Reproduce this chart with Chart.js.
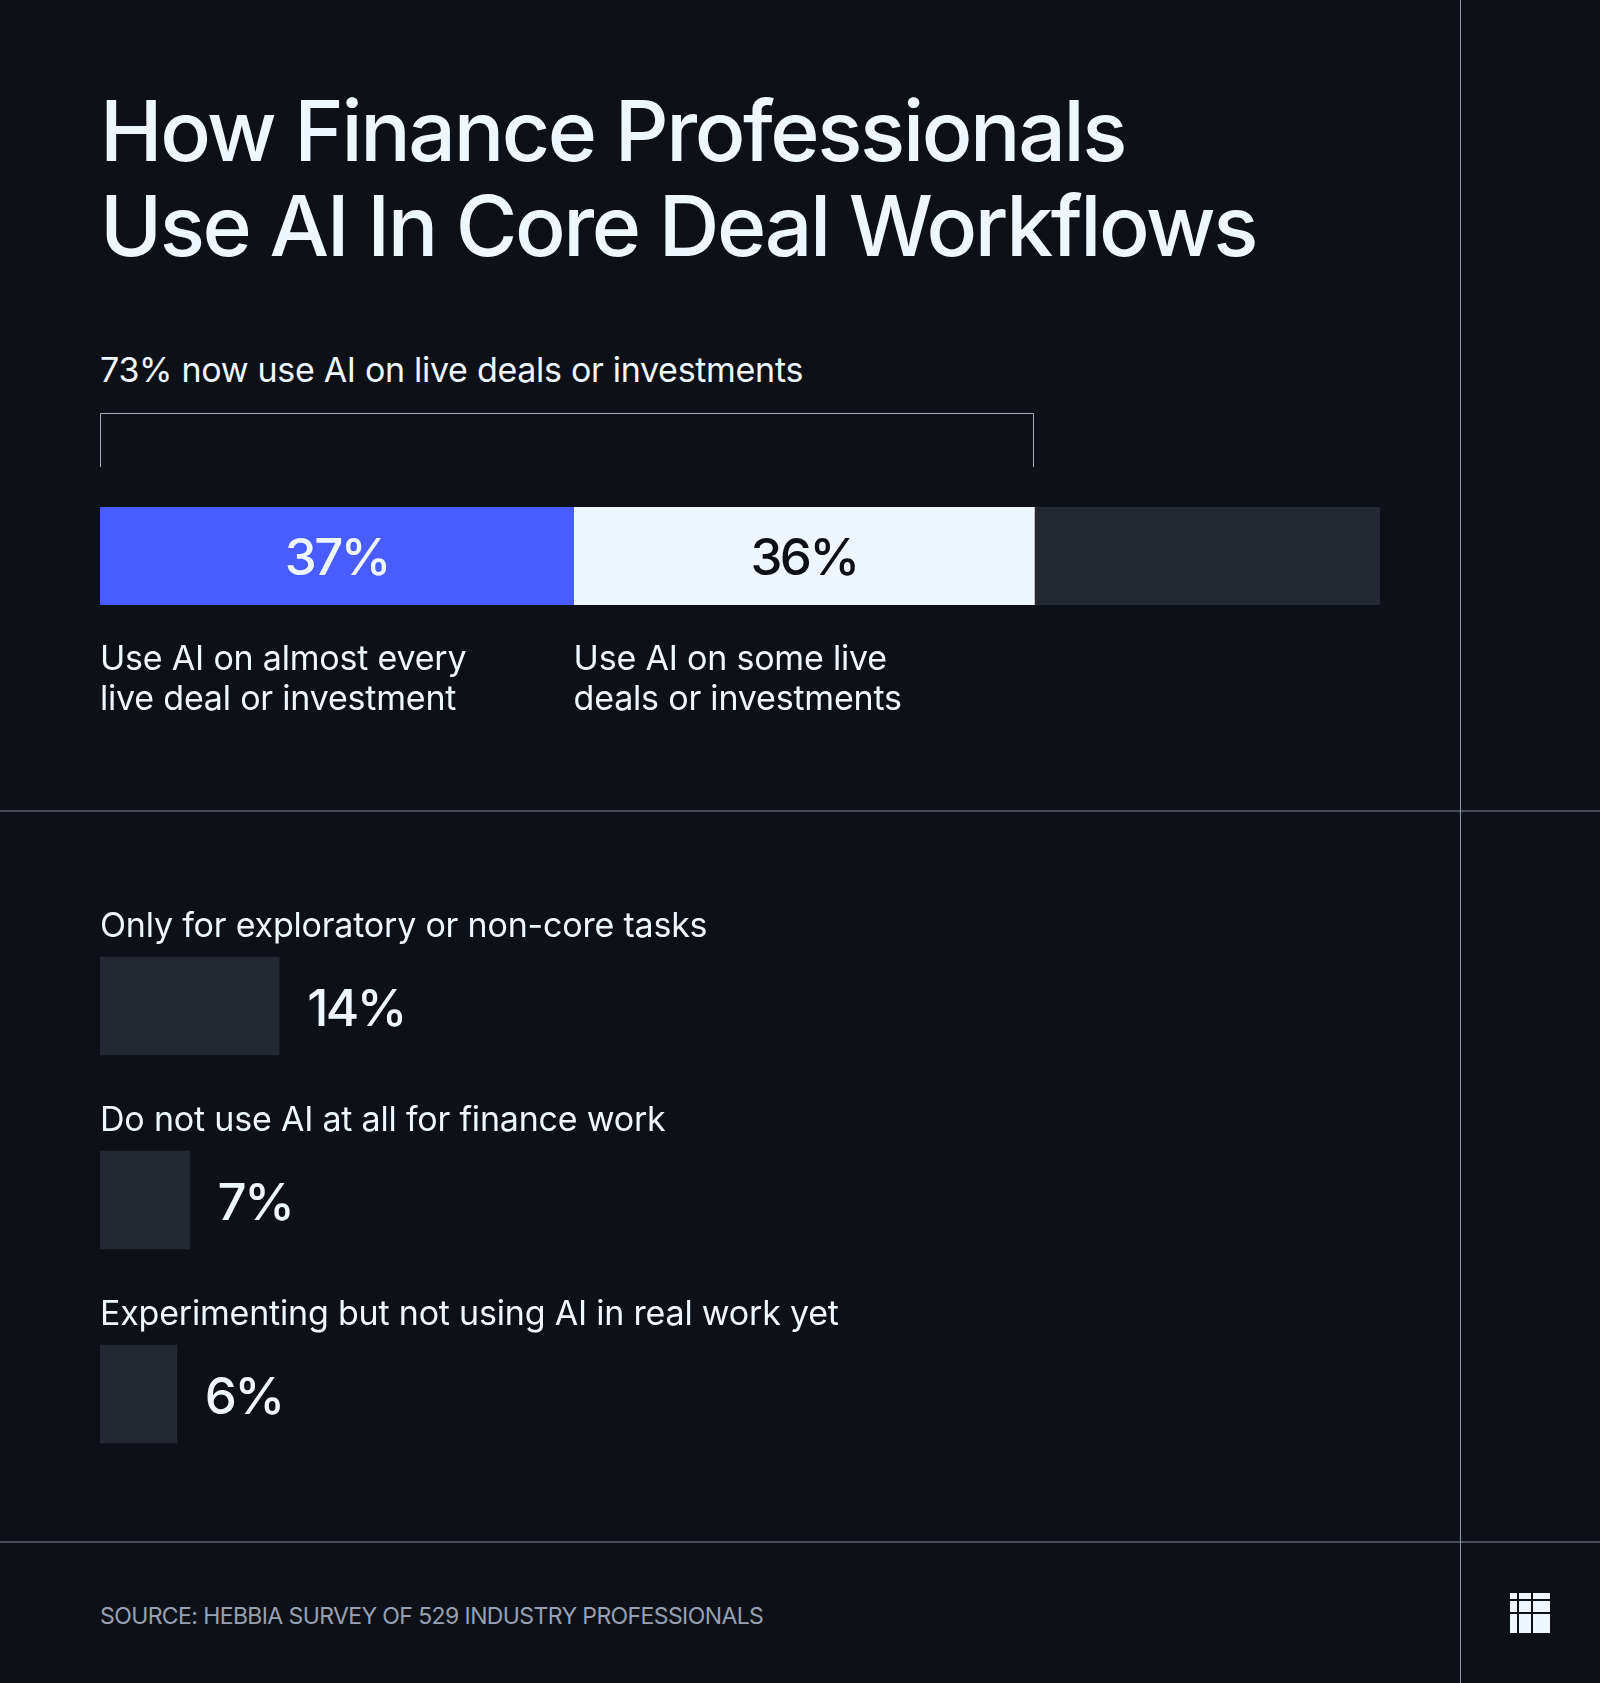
<!DOCTYPE html>
<html>
<head>
<meta charset="utf-8">
<script src="https://cdn.jsdelivr.net/npm/chart.js@4.4.1/dist/chart.umd.min.js"></script>
<style>
  html, body { margin:0; padding:0; }
  body { width:1600px; height:1683px; background:#0D1016; position:relative; overflow:hidden; font-family: Inter, "Noto Sans", sans-serif; color:#EEF6FF; }
  .t { position:absolute; white-space:nowrap; line-height:normal; }
  .title { font-size:84px; font-weight:500; left:100px; letter-spacing:-2.4px; }
  .sub { font-size:34px; font-weight:400; left:100px; letter-spacing:-0.3px; }
  .foot { font-size:23px; font-weight:400; left:100px; color:#98A1B3; letter-spacing:-0.6px; }
  .vline { position:absolute; left:1460px; top:0; width:1px; height:1683px; background:#8E98A8; }
  .hline { position:absolute; left:0; width:1600px; height:2px; background:#474C57; }
  canvas { position:absolute; }
  .logo { position:absolute; left:1510px; top:1593px; width:40px; height:40px; display:grid; grid-template-columns:7px 12px 17px; grid-template-rows:6px 11px 19px; gap:2px; }
  .logo div { background:#EEF6FF; }
</style>
</head>
<body>
<div class="hline" style="top:810px"></div>
<div class="hline" style="top:1541px"></div>
<div class="vline"></div>

<div class="t title" style="top:80px">How Finance Professionals</div>
<div class="t title" style="top:175px">Use AI In Core Deal Workflows</div>
<div class="t sub" id="subtitle" style="top:349px"></div>

<canvas id="topChart" width="1600" height="330" style="left:0;top:400px;width:1600px;height:330px"></canvas>
<canvas id="bottomChart" width="1600" height="620" style="left:0;top:880px;width:1600px;height:620px"></canvas>

<div class="t foot" style="top:1602px">SOURCE: HEBBIA SURVEY OF 529 INDUSTRY PROFESSIONALS</div>
<div class="logo"><div></div><div></div><div></div><div></div><div></div><div></div><div></div><div></div><div></div></div>

<script>
// ---- data ----
const topSegments = ['Use AI on almost every live deal or investment', 'Use AI on some live deals or investments', 'Other'];
const topLabelLines = [['Use AI on almost every', 'live deal or investment'], ['Use AI on some live', 'deals or investments'], []];
const topValues = [37, 36, 27];
const topShowValue = [true, true, false];
const topTotal = 73;
const subtitleText = topTotal + '% now use AI on live deals or investments';

const bottomCategories = ['Only for exploratory or non-core tasks', 'Do not use AI at all for finance work', 'Experimenting but not using AI in real work yet'];
const bottomValues = [14, 7, 6];
const axisMax = 100;

// ---- styles ----
const BG = '#0D1016', TEXT = '#EEF6FF', BLUE = '#485CFF', GRAY = '#242833', BRACKET = '#A3ACBA';
const topColors = [BLUE, TEXT, GRAY];
const topValueColors = [TEXT, BG, TEXT];
const FONT = 'Inter, "Noto Sans", sans-serif';
const LABEL_FONT = '400 34px ' + FONT, LABEL_LS = '-0.2px';
const VALUE_FONT = '500 51px ' + FONT, VALUE_LS = '-2.5px';

document.getElementById('subtitle').textContent = subtitleText;

Chart.defaults.animation = false;
Chart.defaults.events = [];

const hiddenScales = (stacked) => ({
  x: { display:false, min:0, max:axisMax, stacked:stacked, grid:{display:false} },
  y: { display:false, stacked:stacked, grid:{display:false} }
});

// ---- top stacked chart ----
const topPlugin = {
  id: 'topLabels',
  afterDatasetsDraw(chart) {
    const ctx = chart.ctx;
    const xs = chart.scales.x;
    const area = chart.chartArea;
    ctx.save();
    // bracket spanning the total share
    const bx0 = Math.round(xs.getPixelForValue(0)) + 0.5;
    const bx1 = Math.round(xs.getPixelForValue(topTotal)) - 0.5;
    const by0 = area.top - 94 + 0.5, by1 = area.top - 40;
    ctx.strokeStyle = BRACKET; ctx.lineWidth = 1;
    ctx.beginPath();
    ctx.moveTo(bx0, by1); ctx.lineTo(bx0, by0); ctx.lineTo(bx1, by0); ctx.lineTo(bx1, by1);
    ctx.stroke();

    chart.data.datasets.forEach((ds, i) => {
      const el = chart.getDatasetMeta(i).data[0];
      if (!el) return;
      const left = Math.min(el.x, el.base), right = Math.max(el.x, el.base);
      if (topShowValue[i]) {
        ctx.font = VALUE_FONT; ctx.letterSpacing = VALUE_LS;
        ctx.fillStyle = topValueColors[i];
        ctx.textAlign = 'center'; ctx.textBaseline = 'alphabetic';
        ctx.fillText(ds.data[0] + '%', (left + right) / 2, el.y + 19);
      }
      ctx.font = LABEL_FONT; ctx.letterSpacing = LABEL_LS;
      ctx.fillStyle = TEXT; ctx.textAlign = 'left';
      topLabelLines[i].forEach((line, k) => {
        ctx.fillText(line, left, el.y + el.height / 2 + 65 + k * 40);
      });
    });
    ctx.restore();
  }
};

new Chart(document.getElementById('topChart'), {
  type: 'bar',
  data: {
    labels: ['All'],
    datasets: topSegments.map((name, i) => ({
      label: name,
      data: [topValues[i]],
      backgroundColor: topColors[i],
      borderWidth: 0,
      barPercentage: 1,
      categoryPercentage: 1
    }))
  },
  options: {
    indexAxis: 'y',
    responsive: false,
    maintainAspectRatio: false,
    layout: { padding: { left:100, right:220, top:107, bottom:125 } },
    scales: hiddenScales(true),
    plugins: { legend:{display:false}, tooltip:{enabled:false} }
  },
  plugins: [topPlugin]
});

// ---- bottom bar chart ----
const bottomPlugin = {
  id: 'bottomLabels',
  afterDatasetsDraw(chart) {
    const ctx = chart.ctx;
    const meta = chart.getDatasetMeta(0);
    ctx.save();
    ctx.textAlign = 'left'; ctx.textBaseline = 'alphabetic';
    meta.data.forEach((el, i) => {
      const left = Math.min(el.x, el.base), right = Math.max(el.x, el.base);
      ctx.font = LABEL_FONT; ctx.letterSpacing = LABEL_LS;
      ctx.fillStyle = TEXT;
      ctx.fillText(chart.data.labels[i], left, el.y - el.height / 2 - 20);
      ctx.font = VALUE_FONT; ctx.letterSpacing = VALUE_LS;
      ctx.fillText(chart.data.datasets[0].data[i] + '%', right + 28, el.y + 20);
    });
    ctx.restore();
  }
};

new Chart(document.getElementById('bottomChart'), {
  type: 'bar',
  data: {
    labels: bottomCategories,
    datasets: [{
      label: 'Share of respondents',
      data: bottomValues,
      backgroundColor: GRAY,
      borderWidth: 0,
      barThickness: 98
    }]
  },
  options: {
    indexAxis: 'y',
    responsive: false,
    maintainAspectRatio: false,
    layout: { padding: { left:100, right:220, top:29, bottom:9 } },
    scales: hiddenScales(false),
    plugins: { legend:{display:false}, tooltip:{enabled:false} }
  },
  plugins: [bottomPlugin]
});
</script>
</body>
</html>
